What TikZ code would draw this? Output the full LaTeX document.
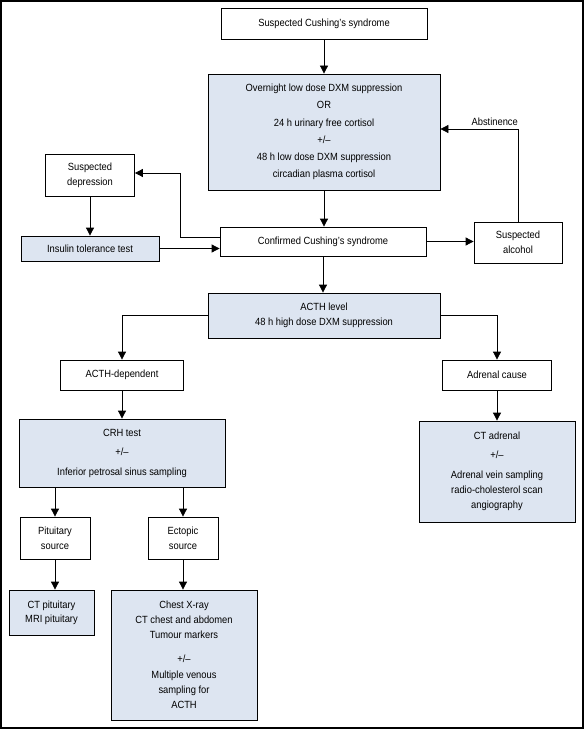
\documentclass[tikz,border=0pt]{standalone}
\usepackage{fontspec}
\setmainfont{Liberation Sans}[FakeStretch=0.9]
\usetikzlibrary{arrows.meta,calc}
\definecolor{testblue}{RGB}{221,229,241}

\begin{document}
\begin{tikzpicture}[x=1pt, y=-1pt,
  box/.style={draw, line width=0.8pt, align=center, inner sep=0pt,
    font=\fontsize{10.4}{15}\selectfont},
  test/.style={box, fill=testblue},
  arrow/.style={-{Triangle[length=8pt,width=8pt]}, line width=0.8pt},
  note/.style={font=\fontsize{10.4}{15}\selectfont}
]
\useasboundingbox (0,0) rectangle (586,730);
\draw[line width=1.6pt] (1,1) rectangle (583,728);

% screening
\node[box, minimum width=206pt, minimum height=31pt] (suspect) at (324,23.5)
  {Suspected Cushing's syndrome};
\node[test, minimum width=232pt, minimum height=116pt,
  font=\fontsize{10.4}{17.3}\selectfont] (screen) at (324,132)
  {Overnight low dose DXM suppression\\ OR\\ 24 h urinary free cortisol\\
  +/--\\ 48 h low dose DXM suppression\\ circadian plasma cortisol};
\node[box, minimum width=206pt, minimum height=29pt] (confirmed) at (323,241.5)
  {Confirmed Cushing's syndrome};
\node[box, minimum width=89pt, minimum height=42pt] (depression) at (90,175)
  {Suspected\\ depression};
\node[test, minimum width=138pt, minimum height=25pt] (insulin) at (90,248.5)
  {Insulin tolerance test};
\node[box, minimum width=88pt, minimum height=41pt] (alcohol) at (518,242.5)
  {Suspected\\ alcohol};

% localisation
\node[test, minimum width=232pt, minimum height=45pt] (acthlevel) at (324,315.5)
  {ACTH level\\ 48 h high dose DXM suppression};
\node[box, minimum width=123pt, minimum height=30pt] (acthdep) at (122,375)
  {ACTH-dependent};
\node[box, minimum width=109pt, minimum height=30pt] (adrenal) at (497,375)
  {Adrenal cause};
\node[test, minimum width=206pt, minimum height=68pt,
  font=\fontsize{10.4}{19.5}\selectfont] (crh) at (122,453)
  {CRH test\\ +/--\\ Inferior petrosal sinus sampling};
\node[test, minimum width=156pt, minimum height=101pt] (ctadrenal) at (497,471.5)
  {CT adrenal\\[4pt] +/--\\[5pt] Adrenal vein sampling\\
  radio-cholesterol scan\\ angiography};
\node[box, minimum width=70pt, minimum height=42pt] (pitsrc) at (55,538)
  {Pituitary\\ source};
\node[box, minimum width=70pt, minimum height=42pt] (ectsrc) at (183,538)
  {Ectopic\\ source};
\node[test, minimum width=85pt, minimum height=45pt,
  font=\fontsize{10.4}{14}\selectfont] (ctpit) at (51.5,612.5)
  {CT pituitary\\ MRI pituitary};
\node[test, minimum width=146pt, minimum height=130pt] (chest) at (184,655)
  {Chest X-ray\\ CT chest and abdomen\\ Tumour markers\\[8.5pt] +/--\\[1.5pt]
  Multiple venous\\ sampling for\\ ACTH};

% connectors
\foreach \a/\b in {suspect/screen, screen/confirmed, confirmed/acthlevel,
  depression/insulin, acthdep/crh, adrenal/ctadrenal, pitsrc/ctpit,
  ectsrc/chest}
  \draw[arrow] (\a.south) -- (\a.south |- \b.north);
\foreach \b in {pitsrc, ectsrc}
  \draw[arrow] (\b.north |- crh.south) -- (\b.north);
\draw[arrow] (confirmed.east) -- (confirmed.east -| alcohol.west);
\draw[arrow] (insulin.east) -- (insulin.east -| confirmed.west);
\draw[arrow] ([yshift=4.5pt]confirmed.west)
  -| ([xshift=45pt,yshift=2pt]depression.east)
  -- ([yshift=2pt]depression.east);
\draw[arrow] (alcohol.north) |- ([yshift=3pt]screen.east)
  node[note, pos=0.65, above] (abstinence) {Abstinence};
\draw[arrow] (acthlevel.west) -| (acthdep.north);
\draw[arrow] (acthlevel.east) -| (adrenal.north);
\end{tikzpicture}
\end{document}
